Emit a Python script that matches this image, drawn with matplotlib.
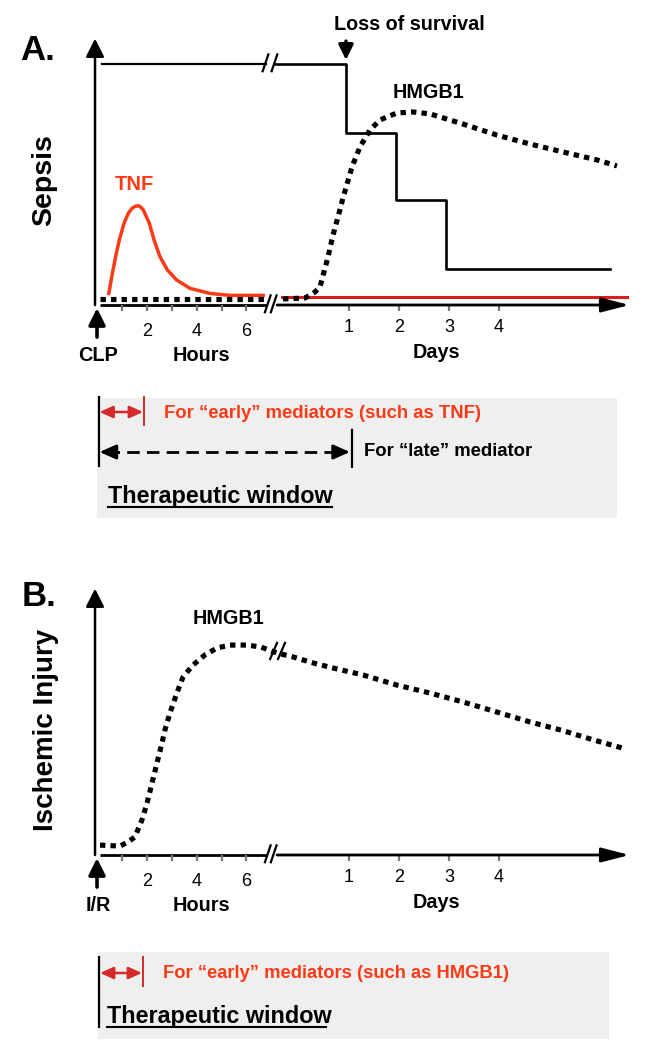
import numpy as np
import matplotlib.pyplot as plt
from matplotlib.patches import Rectangle

plt.rcParams['font.family'] = ['Liberation Sans', 'DejaVu Sans']

W, H = 650, 1050

# time axis: hours before the break, days after it
hour_ticks = [1, 2, 3, 4, 5, 6]
hour_labels = [2, 4, 6]
day_ticks = [1, 2, 3, 4]

# panel A - sepsis (levels in % of the initial survival line)
tnf_hours = [0.44, 0.48, 0.60, 0.73, 0.88, 1.07, 1.24, 1.40, 1.51, 1.64, 1.75, 1.85, 2.09, 2.28,
             2.52, 2.82, 3.19, 3.73, 4.54, 5.34, 6.75]
tnf_level = [4.1, 6.2, 13.1, 20.0, 27.0, 33.9, 38.0, 40.2, 40.9, 41.2, 40.6, 39.4, 33.9, 27.0,
             20.0, 14.5, 10.4, 6.9, 4.8, 4.0, 4.0]
tnf_late_days = [-0.34, 6.56]
tnf_late_level = [3.3, 3.3]

hmgb1_early_hours = [0.1, 6.8]
hmgb1_early_level = [2.5, 2.5]
hmgb1_a_days = [-0.32, 0.12, 0.32, 0.42, 0.58, 0.68, 0.78, 0.88, 1.06, 1.22, 1.42, 1.62, 1.96,
                2.28, 2.62, 3.28, 3.96, 4.62, 5.28, 5.96, 6.36]
hmgb1_a_level = [2.5, 2.9, 5.4, 7.5, 19.9, 29.0, 36.5, 44.4, 57.3, 65.6, 72.6, 76.8, 79.7,
                 80.1, 79.3, 75.1, 70.5, 66.8, 63.5, 60.2, 57.7]

surv_hours = [0.2, 6.78]
surv_early = [100, 100]
surv_days = [-0.49, 0.94, 1.94, 2.94, 6.22]
surv_level = [100, 71.4, 43.6, 14.9, 14.9]

# panel B - ischemic injury
hmgb1_b_hours = [0.1, 0.91, 1.23, 1.51, 1.79, 2.0, 2.2, 2.4, 2.6, 2.72, 2.92, 3.2, 3.45, 3.85,
                 4.33, 4.82, 5.34, 6.03, 6.59]
hmgb1_b_hlevel = [4.1, 3.7, 5.4, 7.5, 14.5, 21.6, 29.9, 38.2, 46.5, 51.9, 58.9, 67.2, 73.9, 78.8,
                  83.0, 85.9, 87.1, 87.1, 86.3]
hmgb1_b_days = [-0.44, -0.12, 0.28, 0.68, 1.28, 1.96, 2.62, 3.28, 3.96, 4.62, 5.28, 5.88, 6.50]
hmgb1_b_dlevel = [83.8, 82.2, 79.7, 77.6, 74.7, 70.5, 67.2, 63.5, 59.3, 55.2, 51.6, 47.8, 44.2]


def day_pos(d):
    return 8.125 + 2.016 * np.asarray(d, dtype=float)


X0, HX, LV = 97.5, 24.8, 2.41
XMIN, XMAX, YMIN, YMAX = -0.5, 21.5, -22, 111

fig = plt.figure(figsize=(6.5, 10.5), dpi=100)

canvas = fig.add_axes([0, 0, 1, 1], zorder=0)
canvas.set_xlim(0, W)
canvas.set_ylim(H, 0)
canvas.axis('off')


def panel(y0):
    left = X0 + XMIN * HX
    right = X0 + XMAX * HX
    top = y0 - YMAX * LV
    bottom = y0 - YMIN * LV
    ax = fig.add_axes([left / W, 1 - bottom / H, (right - left) / W, (bottom - top) / H], zorder=2)
    ax.set_xlim(XMIN, XMAX)
    ax.set_ylim(YMIN, YMAX)
    ax.axis('off')
    return ax


dotted = dict(color='black', lw=3.7, ls=(0, (1.05, 1.0)), dash_capstyle='butt')


def arrow(ax, xy, xytext, style, lw, color='black'):
    ax.annotate('', xy=xy, xytext=xytext,
                arrowprops=dict(arrowstyle=style, lw=lw, color=color, mutation_scale=20,
                                shrinkA=0, shrinkB=0))


def draw_axes(ax, origin_label):
    # y axis
    arrow(ax, (-0.1, 110.5), (-0.1, 0), '-|>,head_length=0.55,head_width=0.28', 1.8)
    # x axis with break
    ax.plot([0.1, 6.85], [0, 0], color='black', lw=2.0, solid_capstyle='butt')
    arrow(ax, (21.45, 0), (7.24, 0), '-|>,head_length=0.85,head_width=0.22', 2.0)
    for dx in (0, 0.24):
        ax.plot([6.75 + dx, 6.98 + dx], [-3.0, 4.0], color='black', lw=1.6)
    ax.vlines(hour_ticks, -2.4, 0, color='#777777', lw=1.6)
    ax.vlines(day_pos(day_ticks), -2.6, 0.6, color='#777777', lw=1.6)
    for h in hour_labels:
        ax.text(h, -11.2, str(h), ha='center', va='center', fontsize=13)
    for d in day_ticks:
        ax.text(float(day_pos(d)), -9.3, str(d), ha='center', va='center', fontsize=13)
    ax.text(4.2, -21, 'Hours', ha='center', va='center', fontsize=14.3, fontweight='bold')
    ax.text(13.65, -19.9, 'Days', ha='center', va='center', fontsize=14.3, fontweight='bold')
    ax.text(0.02, -21, origin_label, ha='center', va='center', fontsize=14.3, fontweight='bold')
    # trigger arrow (hollow shaft)
    arrow(ax, (-0.02, -1.3), (-0.02, -13.3), '-|>,head_length=0.5,head_width=0.25', 2.6)
    ax.plot([-0.02, -0.02], [-13.3, -6.5], color='white', lw=0.8)


# ---------------- panel A ----------------
axA = panel(305)
draw_axes(axA, 'CLP')
axA.plot(tnf_hours, tnf_level, color='#fb3a16', lw=2.5, solid_capstyle='butt')
axA.plot(day_pos(tnf_late_days), tnf_late_level, color='#d81e1e', lw=2.2)
axA.plot(hmgb1_early_hours, hmgb1_early_level, **dotted)
axA.plot(day_pos(hmgb1_a_days), hmgb1_a_level, **dotted)
axA.plot(surv_hours, surv_early, color='black', lw=1.6)
axA.plot(day_pos(surv_days), surv_level, drawstyle='steps-post', color='black', lw=1.9)
for dx in (0, 0.36):
    axA.plot([6.66 + dx, 6.89 + dx], [97, 104], color='black', lw=1.6)

axA.text(13.35, 88.3, 'HMGB1', ha='center', va='center', fontsize=14.2, fontweight='bold')
axA.text(1.5, 50.2, 'TNF', ha='center', va='center', fontsize=14.5, fontweight='bold',
         color='#fb3a16')

canvas.text(38, 51, 'A.', ha='center', va='center', fontsize=25, fontweight='bold')
canvas.text(44, 180, 'Sepsis', ha='center', va='center', rotation=90, fontsize=20.5,
            fontweight='bold')
canvas.text(409, 25, 'Loss of survival', ha='center', va='center', fontsize=14.2,
            fontweight='bold')
arrow(canvas, (346, 60), (346, 41), '-|>,head_length=0.45,head_width=0.22', 2.4)
canvas.plot([346, 346], [41, 49], color='white', lw=0.7)

# therapeutic window A
canvas.add_patch(Rectangle((97, 398), 520, 120, facecolor='#efefef', edgecolor='none'))
canvas.plot([98.5, 98.5], [397, 466], color='black', lw=1.6)
canvas.plot([144, 144], [397, 425], color='#d42a2a', lw=1.4)
arrow(canvas, (99.5, 412), (143, 412), '<|-|>,head_length=0.4,head_width=0.18', 1.8, '#d42a2a')
canvas.text(164, 413, 'For \u201cearly\u201d mediators (such as TNF)', ha='left', va='center',
            fontsize=13.3, fontweight='bold', color='#fb3a16')
canvas.plot([107, 340], [452, 452], color='black', lw=2.0, ls=(0, (4.5, 2.6)))
arrow(canvas, (99.5, 452), (110, 452), '-|>,head_length=0.5,head_width=0.22', 2.0)
arrow(canvas, (350, 452), (340, 452), '-|>,head_length=0.5,head_width=0.22', 2.0)
canvas.plot([351.5, 351.5], [430, 467], color='black', lw=1.6)
canvas.text(364, 451, 'For \u201clate\u201d mediator', ha='left', va='center', fontsize=13.3,
            fontweight='bold')
canvas.text(108, 497, 'Therapeutic window', ha='left', va='center', fontsize=16.8,
            fontweight='bold')
canvas.plot([108, 332], [506.5, 506.5], color='black', lw=1.5)

# ---------------- panel B ----------------
axB = panel(855)
draw_axes(axB, 'I/R')
b_pos = np.concatenate([hmgb1_b_hours, day_pos(hmgb1_b_days)])
b_lvl = np.concatenate([hmgb1_b_hlevel, hmgb1_b_dlevel])
axB.plot(b_pos, b_lvl, **dotted)
for dx in (0, 0.32):
    axB.plot([6.96 + dx, 7.24 + dx], [81.3, 88.0], color='black', lw=1.6)
axB.text(5.26, 98.0, 'HMGB1', ha='center', va='center', fontsize=14.2, fontweight='bold')

canvas.text(39, 597, 'B.', ha='center', va='center', fontsize=25, fontweight='bold')
canvas.text(46, 730, 'Ischemic Injury', ha='center', va='center', rotation=90, fontsize=20,
            fontweight='bold')

# therapeutic window B
canvas.add_patch(Rectangle((98, 952), 511, 87, facecolor='#efefef', edgecolor='none'))
canvas.plot([99, 99], [957, 1027], color='black', lw=1.6)
canvas.plot([143, 143], [957, 986], color='#d42a2a', lw=1.4)
arrow(canvas, (100, 973), (142, 973), '<|-|>,head_length=0.4,head_width=0.18', 1.8, '#d42a2a')
canvas.text(163, 973, 'For \u201cearly\u201d mediators (such as HMGB1)', ha='left', va='center',
            fontsize=13.2, fontweight='bold', color='#fb3a16')
canvas.text(107, 1017, 'Therapeutic window', ha='left', va='center', fontsize=16.8,
            fontweight='bold')
canvas.plot([107, 326], [1026.5, 1026.5], color='black', lw=1.5)

fig.savefig('out.png', dpi=100)
